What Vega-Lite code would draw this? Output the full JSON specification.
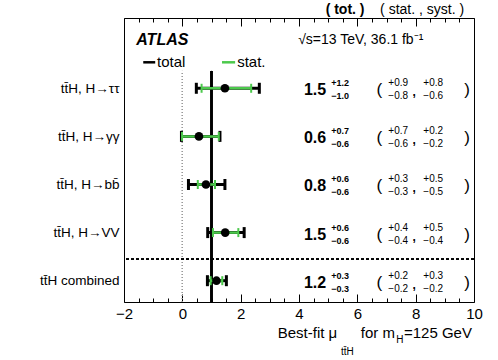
{
  "$schema": "https://vega.github.io/schema/vega-lite/v6.json",
  "width": 350,
  "height": 284,
  "autosize": {"type": "none"},
  "padding": {"left": 124, "top": 18, "right": 24, "bottom": 58},
  "background": "white",
  "config": {
    "font": "Liberation Sans",
    "view": {"stroke": "black", "strokeWidth": 1},
    "text": {"font": "Liberation Sans", "color": "black", "baseline": "middle"}
  },
  "datasets": {
    "rows": [
      {"pos": 4, "mu": 1.46, "totLo": 0.48, "totHi": 2.64, "statLo": 0.66, "statHi": 2.36, "muTxt": "1.5", "totUp": "+1.2", "totDn": "−1.0", "statUp": "+0.9", "statDn": "−0.8", "systUp": "+0.8", "systDn": "−0.6"},
      {"pos": 3, "mu": 0.57, "totLo": -0.03, "totHi": 1.29, "statLo": -0.01, "statHi": 1.25, "muTxt": "0.6", "totUp": "+0.7", "totDn": "−0.6", "statUp": "+0.7", "statDn": "−0.6", "systUp": "+0.2", "systDn": "−0.2"},
      {"pos": 2, "mu": 0.81, "totLo": 0.21, "totHi": 1.46, "statLo": 0.53, "statHi": 1.12, "muTxt": "0.8", "totUp": "+0.6", "totDn": "−0.6", "statUp": "+0.3", "statDn": "−0.3", "systUp": "+0.5", "systDn": "−0.5"},
      {"pos": 1, "mu": 1.47, "totLo": 0.87, "totHi": 2.12, "statLo": 1.05, "statHi": 1.92, "muTxt": "1.5", "totUp": "+0.6", "totDn": "−0.6", "statUp": "+0.4", "statDn": "−0.4", "systUp": "+0.5", "systDn": "−0.4"},
      {"pos": 0, "mu": 1.17, "totLo": 0.86, "totHi": 1.51, "statLo": 0.97, "statHi": 1.37, "muTxt": "1.2", "totUp": "+0.3", "totDn": "−0.3", "statUp": "+0.2", "statDn": "−0.2", "systUp": "+0.3", "systDn": "−0.2"}
    ]
  },
  "data": {"name": "rows"},
  "resolve": {"axis": {"x": "independent", "y": "independent"}},
  "layer": [
    {
      "mark": {"type": "rule", "color": "#999999", "strokeWidth": 1, "strokeDash": [1, 2]},
      "encoding": {
        "x": {"datum": 0, "type": "quantitative", "scale": {"domain": [-2, 10], "nice": false, "zero": false},
          "axis": {"orient": "bottom", "values": [-2, 0, 2, 4, 6, 8, 10], "format": "d", "offset": -8, "domain": false,
            "tickSize": 8, "tickColor": "black", "labelColor": "black", "labelFontSize": 15,
            "labelPadding": 4, "labelOverlap": false, "labelFlush": false, "grid": false, "title": null}},
        "y": {"datum": -0.443, "type": "quantitative", "scale": {"domain": [-0.443, 5.461], "nice": false, "zero": false},
          "axis": {"orient": "left", "values": [0, 1, 2, 3, 4],
            "labelExpr": "['tt\u0304H combined', 'tt\u0304H, H\u2192VV', 'tt\u0304H, H\u2192bb\u0304', 'tt\u0304H, H\u2192\u03b3\u03b3', 'tt\u0304H, H\u2192\u03c4\u03c4'][datum.value]",
            "ticks": false, "domain": false, "labelColor": "black", "labelFontSize": 13.5, "labelPadding": 5,
            "grid": false, "title": null}},
        "y2": {"datum": 4.36}
      }
    },
    {
      "mark": {"type": "rule", "color": "black", "strokeWidth": 2},
      "encoding": {
        "x": {"datum": 1, "type": "quantitative",
          "axis": {"orient": "top", "values": [-2, 0, 2, 4, 6, 8, 10], "labels": false, "offset": -8, "domain": false,
            "tickSize": 8, "tickColor": "black", "grid": false, "title": null}},
        "y": {"datum": -0.443, "type": "quantitative", "axis": null},
        "y2": {"datum": 4.36}
      }
    },
    {
      "mark": {"type": "rule", "color": "black", "strokeWidth": 1, "strokeDash": [3, 2]},
      "encoding": {"y": {"datum": 0.45, "type": "quantitative", "axis": null}}
    },
    {
      "mark": {"type": "rule", "color": "black", "strokeWidth": 3},
      "encoding": {
        "x": {"field": "totLo", "type": "quantitative",
          "axis": {"orient": "bottom", "values": [-1.5, -1, -0.5, 0.5, 1, 1.5, 2.5, 3, 3.5, 4.5, 5, 5.5, 6.5, 7, 7.5, 8.5, 9, 9.5],
            "labels": false, "domain": false, "offset": -4, "tickSize": 4, "tickColor": "black", "grid": false, "title": null}},
        "x2": {"field": "totHi"},
        "y": {"field": "pos", "type": "quantitative", "axis": null}
      }
    },
    {
      "transform": [{"fold": ["totLo", "totHi"], "as": ["k", "v"]}],
      "mark": {"type": "tick", "orient": "vertical", "color": "black", "thickness": 3, "size": 11, "opacity": 1},
      "encoding": {
        "x": {"field": "v", "type": "quantitative", "axis": null},
        "y": {"field": "pos", "type": "quantitative", "axis": null}
      }
    },
    {
      "mark": {"type": "rule", "color": "#4cc94c", "strokeWidth": 2.5},
      "encoding": {
        "x": {"field": "statLo", "type": "quantitative",
          "axis": {"orient": "top", "values": [-1.5, -1, -0.5, 0.5, 1, 1.5, 2.5, 3, 3.5, 4.5, 5, 5.5, 6.5, 7, 7.5, 8.5, 9, 9.5],
            "labels": false, "domain": false, "offset": -4, "tickSize": 4, "tickColor": "black", "grid": false, "title": null}},
        "x2": {"field": "statHi"},
        "y": {"field": "pos", "type": "quantitative", "axis": null}
      }
    },
    {
      "transform": [{"fold": ["statLo", "statHi"], "as": ["k", "v"]}],
      "mark": {"type": "tick", "orient": "vertical", "color": "#4cc94c", "thickness": 2, "size": 9, "opacity": 1},
      "encoding": {
        "x": {"field": "v", "type": "quantitative", "axis": null},
        "y": {"field": "pos", "type": "quantitative", "axis": null}
      }
    },
    {
      "mark": {"type": "point", "filled": true, "color": "black", "size": 75, "opacity": 1},
      "encoding": {
        "x": {"field": "mu", "type": "quantitative", "axis": null},
        "y": {"field": "pos", "type": "quantitative", "axis": null}
      }
    },
    {
      "mark": {"type": "text", "align": "right", "fontSize": 16, "fontWeight": "bold", "dy": 2},
      "encoding": {
        "x": {"datum": 4.93, "type": "quantitative", "axis": null},
        "y": {"field": "pos", "type": "quantitative", "axis": null},
        "text": {"field": "muTxt"}
      }
    },
    {
      "mark": {"type": "text", "align": "center", "fontSize": 9, "fontWeight": "bold", "dy": -5},
      "encoding": {
        "x": {"datum": 5.41, "type": "quantitative", "axis": null},
        "y": {"field": "pos", "type": "quantitative", "axis": null},
        "text": {"field": "totUp"}
      }
    },
    {
      "mark": {"type": "text", "align": "center", "fontSize": 9, "fontWeight": "bold", "dy": 8},
      "encoding": {
        "x": {"datum": 5.41, "type": "quantitative", "axis": null},
        "y": {"field": "pos", "type": "quantitative", "axis": null},
        "text": {"field": "totDn"}
      }
    },
    {
      "mark": {"type": "text", "align": "center", "fontSize": 17, "text": "(", "dy": 2},
      "encoding": {
        "x": {"datum": 6.75, "type": "quantitative", "axis": null},
        "y": {"field": "pos", "type": "quantitative", "axis": null}
      }
    },
    {
      "mark": {"type": "text", "align": "center", "fontSize": 10, "dy": -5},
      "encoding": {
        "x": {"datum": 7.4, "type": "quantitative", "axis": null},
        "y": {"field": "pos", "type": "quantitative", "axis": null},
        "text": {"field": "statUp"}
      }
    },
    {
      "mark": {"type": "text", "align": "center", "fontSize": 10, "dy": 8},
      "encoding": {
        "x": {"datum": 7.4, "type": "quantitative", "axis": null},
        "y": {"field": "pos", "type": "quantitative", "axis": null},
        "text": {"field": "statDn"}
      }
    },
    {
      "mark": {"type": "text", "align": "center", "fontSize": 12, "fontWeight": "bold", "text": ",", "dy": 4},
      "encoding": {
        "x": {"datum": 7.95, "type": "quantitative", "axis": null},
        "y": {"field": "pos", "type": "quantitative", "axis": null}
      }
    },
    {
      "mark": {"type": "text", "align": "center", "fontSize": 10, "dy": -5},
      "encoding": {
        "x": {"datum": 8.6, "type": "quantitative", "axis": null},
        "y": {"field": "pos", "type": "quantitative", "axis": null},
        "text": {"field": "systUp"}
      }
    },
    {
      "mark": {"type": "text", "align": "center", "fontSize": 10, "dy": 8},
      "encoding": {
        "x": {"datum": 8.6, "type": "quantitative", "axis": null},
        "y": {"field": "pos", "type": "quantitative", "axis": null},
        "text": {"field": "systDn"}
      }
    },
    {
      "mark": {"type": "text", "align": "center", "fontSize": 17, "text": ")", "dy": 2},
      "encoding": {
        "x": {"datum": 9.76, "type": "quantitative", "axis": null},
        "y": {"field": "pos", "type": "quantitative", "axis": null}
      }
    },
    {
      "data": {"values": [{}]},
      "mark": {"type": "text", "align": "center", "fontSize": 14, "fontWeight": "bold", "text": "( tot. )"},
      "encoding": {"x": {"datum": 5.58, "type": "quantitative", "axis": null}, "y": {"datum": 5.63, "type": "quantitative", "axis": null}}
    },
    {
      "data": {"values": [{}]},
      "mark": {"type": "text", "align": "center", "fontSize": 14, "text": "( stat. , syst. )"},
      "encoding": {"x": {"datum": 8.22, "type": "quantitative", "axis": null}, "y": {"datum": 5.63, "type": "quantitative", "axis": null}}
    },
    {
      "data": {"values": [{}]},
      "mark": {"type": "text", "align": "left", "fontSize": 16, "fontWeight": "bold", "fontStyle": "italic", "text": "ATLAS"},
      "encoding": {"x": {"datum": -1.58, "type": "quantitative", "axis": null}, "y": {"datum": 5.0, "type": "quantitative", "axis": null}}
    },
    {
      "data": {"values": [{}]},
      "mark": {"type": "text", "align": "left", "fontSize": 14, "text": "√s=13 TeV, 36.1 fb⁻¹"},
      "encoding": {"x": {"datum": 3.97, "type": "quantitative", "axis": null}, "y": {"datum": 5.0, "type": "quantitative", "axis": null}}
    },
    {
      "data": {"values": [{}]},
      "mark": {"type": "text", "align": "left", "fontSize": 15, "text": "total"},
      "encoding": {"x": {"datum": -0.87, "type": "quantitative", "axis": null}, "y": {"datum": 4.54, "type": "quantitative", "axis": null}}
    },
    {
      "data": {"values": [{}]},
      "mark": {"type": "text", "align": "left", "fontSize": 15, "text": "stat."},
      "encoding": {"x": {"datum": 1.88, "type": "quantitative", "axis": null}, "y": {"datum": 4.54, "type": "quantitative", "axis": null}}
    },
    {
      "data": {"values": [{}]},
      "mark": {"type": "rule", "color": "black", "strokeWidth": 2.5},
      "encoding": {"x": {"datum": -1.34, "type": "quantitative", "axis": null}, "x2": {"datum": -0.93}, "y": {"datum": 4.54, "type": "quantitative", "axis": null}}
    },
    {
      "data": {"values": [{}]},
      "mark": {"type": "rule", "color": "#4cc94c", "strokeWidth": 2.5},
      "encoding": {"x": {"datum": 1.36, "type": "quantitative", "axis": null}, "x2": {"datum": 1.81}, "y": {"datum": 4.54, "type": "quantitative", "axis": null}}
    },
    {
      "data": {"values": [{}]},
      "mark": {"type": "text", "align": "right", "fontSize": 15, "text": "Best-fit μ"},
      "encoding": {"x": {"datum": 5.31, "type": "quantitative", "axis": null}, "y": {"datum": -1.087, "type": "quantitative", "axis": null}}
    },
    {
      "data": {"values": [{}]},
      "mark": {"type": "text", "align": "left", "fontSize": 10, "text": "tt̄H"},
      "encoding": {"x": {"datum": 5.44, "type": "quantitative", "axis": null}, "y": {"datum": -1.48, "type": "quantitative", "axis": null}}
    },
    {
      "data": {"values": [{}]},
      "mark": {"type": "text", "align": "left", "fontSize": 15, "text": "for m"},
      "encoding": {"x": {"datum": 6.12, "type": "quantitative", "axis": null}, "y": {"datum": -1.087, "type": "quantitative", "axis": null}}
    },
    {
      "data": {"values": [{}]},
      "mark": {"type": "text", "align": "left", "fontSize": 10, "text": "H"},
      "encoding": {"x": {"datum": 7.33, "type": "quantitative", "axis": null}, "y": {"datum": -1.233, "type": "quantitative", "axis": null}}
    },
    {
      "data": {"values": [{}]},
      "mark": {"type": "text", "align": "left", "fontSize": 15, "text": "=125 GeV"},
      "encoding": {"x": {"datum": 7.6, "type": "quantitative", "axis": null}, "y": {"datum": -1.087, "type": "quantitative", "axis": null}}
    }
  ]
}
